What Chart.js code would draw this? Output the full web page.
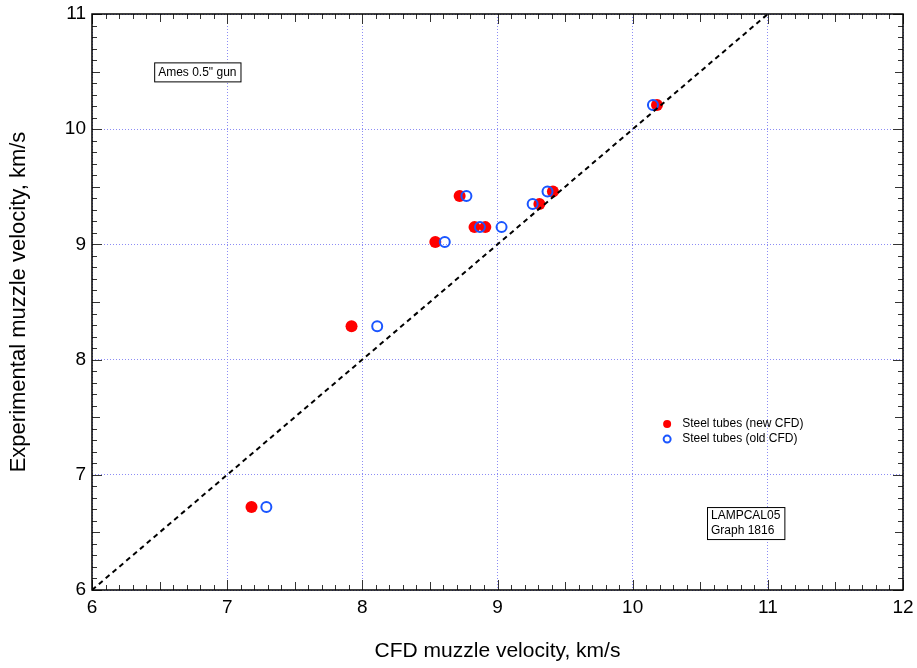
<!DOCTYPE html>
<html>
<head>
<meta charset="utf-8">
<script src="https://cdn.jsdelivr.net/npm/chart.js@4.4.1/dist/chart.umd.min.js"></script>
<style>
  html, body { margin: 0; padding: 0; background: #fff; }
  #wrap { width: 917px; height: 668px; position: relative; }
</style>
</head>
<body>
<div id="wrap"><canvas id="chart"></canvas></div>
<script>
// ---------- DATA ----------
const expVelocity = [6.72, 8.29, 9.02, 9.42, 9.15, 9.15, 9.35, 9.46, 10.21];
const newCfd = [7.18, 7.92, 8.54, 8.72, 8.83, 8.91, 9.31, 9.41, 10.18];
const expVelocityOld = [6.72, 8.29, 9.02, 9.42, 9.15, 9.15, 9.35, 9.46, 10.21];
const oldCfd = [7.29, 8.11, 8.61, 8.77, 8.87, 9.03, 9.26, 9.37, 10.15];
const parityLine = [6, 11];

const seriesLabels = ['Steel tubes (new CFD)', 'Steel tubes (old CFD)'];
const notes = ['Ames 0.5" gun', 'LAMPCAL05', 'Graph 1816'];

const FONT = '"Liberation Sans", Arial, Helvetica, sans-serif';
const RED = '#ff0000';
const BLUE = '#1a55ff';
const GRID = '#8c8cf5';

// inward minor/medium ticks on all four sides, plus legend and note boxes
const framePlugin = {
  id: 'frame',
  afterDraw(chart) {
    const { ctx, chartArea: a, scales: { x, y } } = chart;
    ctx.save();
    ctx.strokeStyle = '#333';
    ctx.lineWidth = 1;
    ctx.beginPath();
    for (let i = 60; i <= 120; i++) {
      const v = i / 10;
      const len = i % 10 === 0 ? 10 : (i % 5 === 0 ? 8 : 5);
      const px = Math.round(x.getPixelForValue(v)) + 0.5;
      ctx.moveTo(px, a.bottom); ctx.lineTo(px, a.bottom - len);
      ctx.moveTo(px, a.top); ctx.lineTo(px, a.top + len);
    }
    for (let i = 60; i <= 110; i++) {
      const v = i / 10;
      const len = i % 10 === 0 ? 10 : (i % 5 === 0 ? 8 : 5);
      const py = Math.round(y.getPixelForValue(v)) + 0.5;
      ctx.moveTo(a.left, py); ctx.lineTo(a.left + len, py);
      ctx.moveTo(a.right, py); ctx.lineTo(a.right - len, py);
    }
    ctx.stroke();

    // frame
    ctx.strokeStyle = '#000';
    ctx.lineWidth = 1.5;
    ctx.strokeRect(a.left, a.top, a.right - a.left, a.bottom - a.top);

    // legend
    ctx.font = '12px ' + FONT;
    ctx.textBaseline = 'middle';
    const lx = x.getPixelForValue(10.255);
    const ly1 = y.getPixelForValue(7.44);
    const ly2 = y.getPixelForValue(7.31);
    ctx.beginPath();
    ctx.arc(lx, ly1, 4, 0, Math.PI * 2);
    ctx.fillStyle = RED; ctx.fill();
    ctx.beginPath();
    ctx.arc(lx, ly2, 3.5, 0, Math.PI * 2);
    ctx.strokeStyle = BLUE; ctx.lineWidth = 2; ctx.stroke();
    ctx.fillStyle = '#000';
    ctx.fillText(seriesLabels[0], lx + 15, ly1);
    ctx.fillText(seriesLabels[1], lx + 15, ly2);

    // note boxes
    ctx.lineWidth = 1;
    ctx.strokeStyle = '#000';
    ctx.font = '12px ' + FONT;
    const b1x = x.getPixelForValue(6.46), b1y = y.getPixelForValue(10.58);
    const w1 = ctx.measureText(notes[0]).width + 8;
    ctx.fillStyle = '#fff';
    ctx.fillRect(b1x, b1y, w1, 19);
    ctx.strokeRect(b1x + 0.5, b1y + 0.5, w1, 19);
    ctx.fillStyle = '#000';
    ctx.fillText(notes[0], b1x + 4, b1y + 10);

    const b2x = x.getPixelForValue(10.55), b2y = y.getPixelForValue(6.72);
    const w2 = Math.max(ctx.measureText(notes[1]).width, ctx.measureText(notes[2]).width) + 8;
    ctx.fillStyle = '#fff';
    ctx.fillRect(b2x, b2y, w2, 32);
    ctx.strokeRect(b2x + 0.5, b2y + 0.5, w2, 32);
    ctx.fillStyle = '#000';
    ctx.fillText(notes[1], b2x + 4, b2y + 9);
    ctx.fillText(notes[2], b2x + 4, b2y + 24);
    ctx.restore();
  }
};

new Chart(document.getElementById('chart'), {
  type: 'scatter',
  data: {
    datasets: [
      {
        label: 'y = x',
        type: 'line',
        data: parityLine.map(v => ({ x: v, y: v })),
        borderColor: '#000',
        borderWidth: 2,
        borderDash: [5, 4],
        pointRadius: 0,
        fill: false,
        order: 0
      },
      {
        label: seriesLabels[0],
        data: newCfd.map((v, i) => ({ x: v, y: expVelocity[i] })),
        pointRadius: 6,
        pointBackgroundColor: RED,
        pointBorderColor: RED,
        pointBorderWidth: 0,
        order: 2
      },
      {
        label: seriesLabels[1],
        data: oldCfd.map((v, i) => ({ x: v, y: expVelocityOld[i] })),
        pointRadius: 5,
        pointBackgroundColor: 'rgba(0,0,0,0)',
        pointBorderColor: BLUE,
        pointBorderWidth: 2,
        order: 1
      }
    ]
  },
  options: {
    responsive: true,
    maintainAspectRatio: false,
    animation: false,
    layout: { padding: { left: 0, top: 14, right: 14, bottom: 0 } },
    plugins: { legend: { display: false }, tooltip: { enabled: false } },
    scales: {
      x: {
        type: 'linear',
        min: 6, max: 12,
        ticks: { stepSize: 1, color: '#000', font: { family: FONT, size: 19 }, padding: 6 },
        grid: { color: GRID, lineWidth: 1, drawTicks: false },
        border: { display: false, dash: [1, 2] },
        title: { display: true, text: 'CFD muzzle velocity, km/s', color: '#000', font: { family: FONT, size: 21 }, padding: { top: 13 } },
        afterFit(scale) { scale.height = 78; scale.paddingRight = 0; scale.paddingLeft = 0; }
      },
      y: {
        type: 'linear',
        min: 6, max: 11,
        ticks: { stepSize: 1, color: '#000', font: { family: FONT, size: 19 }, padding: 6 },
        grid: { color: GRID, lineWidth: 1, drawTicks: false },
        border: { display: false, dash: [1, 2] },
        title: { display: true, text: 'Experimental muzzle velocity, km/s', color: '#000', font: { family: FONT, size: 22 }, padding: { top: 6, bottom: 14 } },
        afterFit(scale) { scale.width = 92; scale.paddingTop = 0; scale.paddingBottom = 0; }
      }
    }
  },
  plugins: [framePlugin]
});
</script>
</body>
</html>
